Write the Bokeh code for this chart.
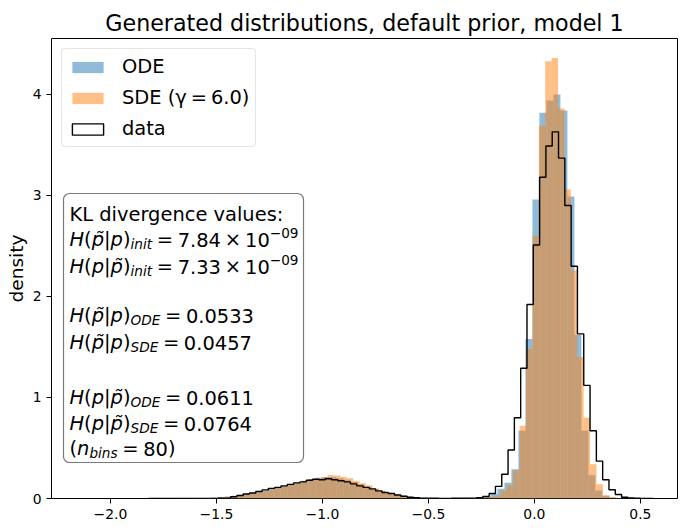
import numpy as np
from bokeh.plotting import figure
from bokeh.models import (Range1d, FixedTicker, CustomJSTickFormatter, Legend, LegendItem,
                          BoxAnnotation, Label)
from bokeh.embed import file_html
from bokeh.resources import INLINE

# ---------------------------------------------------------------- data
N_BINS = 80

# (min, max) of each sample set; each histogram uses N_BINS equal bins over its own range
ode_range = (-2.0884, 0.5516)
sde_range = (-1.8516, 0.5644)
data_range = (-1.82, 0.56)

# normalised bin densities
ode_density = [
    0.001, 0.0, 0.0, 0.0, 0.0, 0.0, 0.0, 0.001, 0.001, 0.001,
    0.002, 0.002, 0.003, 0.003, 0.004, 0.005, 0.006, 0.010, 0.015, 0.020,
    0.028, 0.038, 0.050, 0.063, 0.078, 0.093, 0.108, 0.123, 0.140, 0.158,
    0.175, 0.192, 0.205, 0.214, 0.212, 0.200, 0.185, 0.163, 0.140, 0.115,
    0.093, 0.072, 0.053, 0.038, 0.026, 0.016, 0.010, 0.007, 0.005, 0.004,
    0.003, 0.003, 0.003, 0.004, 0.004, 0.008, 0.020, 0.047, 0.096, 0.155,
    0.29, 0.67, 1.58, 2.96, 3.82, 3.94, 4.00, 3.84, 2.99, 1.62,
    0.67, 0.23, 0.08, 0.025, 0.010, 0.005, 0.003, 0.002, 0.002, 0.001,
]
sde_density = [
    0.001, 0.001, 0.001, 0.001, 0.001, 0.002, 0.002, 0.002, 0.003, 0.003,
    0.004, 0.006, 0.010, 0.015, 0.022, 0.030, 0.040, 0.050, 0.062, 0.075,
    0.090, 0.105, 0.120, 0.135, 0.150, 0.170, 0.185, 0.200, 0.212, 0.232,
    0.228, 0.215, 0.200, 0.175, 0.150, 0.130, 0.100, 0.080, 0.060, 0.045,
    0.030, 0.020, 0.012, 0.008, 0.005, 0.003, 0.002, 0.002, 0.002, 0.002,
    0.002, 0.002, 0.005, 0.008, 0.015, 0.030, 0.080, 0.130, 0.280, 0.72,
    1.48, 2.60, 3.69, 4.33, 4.36, 3.86, 3.06, 2.26, 1.40, 0.80,
    0.34, 0.14, 0.035, 0.012, 0.005, 0.003, 0.002, 0.001, 0.001, 0.001,
]
data_density = [
    0.001, 0.0, 0.0, 0.0, 0.0, 0.0, 0.0, 0.0, 0.001, 0.0,
    0.001, 0.002, 0.004, 0.017, 0.030, 0.045, 0.055, 0.070, 0.085, 0.100,
    0.110, 0.125, 0.140, 0.155, 0.165, 0.180, 0.190, 0.185, 0.195, 0.185,
    0.175, 0.165, 0.145, 0.125, 0.110, 0.095, 0.075, 0.060, 0.050, 0.035,
    0.022, 0.012, 0.007, 0.004, 0.002, 0.002, 0.001, 0.001, 0.002, 0.002,
    0.003, 0.004, 0.008, 0.020, 0.050, 0.120, 0.240, 0.480, 0.800, 1.290,
    1.920, 2.510, 3.180, 3.490, 3.630, 3.370, 2.900, 2.300, 1.630, 1.120,
    0.670, 0.370, 0.185, 0.086, 0.040, 0.013, 0.005, 0.002, 0.001, 0.001,
]

series_labels = ["ODE", "SDE (\u03b3\u2009=\u20096.0)", "data"]

# KL divergence values shown in the text box
kl_init_mantissa = ["7.84", "7.33"]
kl_init_exponent = "\u221209"
kl_fwd = {"ODE": "0.0533", "SDE": "0.0457"}   # H(p~|p)
kl_rev = {"ODE": "0.0611", "SDE": "0.0764"}   # H(p|p~)

x_ticks = [-2.0, -1.5, -1.0, -0.5, 0.0, 0.5]
y_ticks = [0, 1, 2, 3, 4]

# ---------------------------------------------------------------- layout constants
W, H = 683, 532
FRAME_L, FRAME_T, FRAME_W, FRAME_H = 51, 38, 626, 460
X_LO, X_HI = -2.278, 0.675
Y_LO, Y_HI = 0.0, 4.554
FONT = "DejaVu Sans"


def fx(px):
    return X_LO + (px - FRAME_L) * (X_HI - X_LO) / FRAME_W


def fy(py):
    return Y_HI - (py - FRAME_T) * (Y_HI - Y_LO) / FRAME_H


p = figure(width=W, height=H, output_backend="svg", toolbar_location=None,
           x_range=Range1d(X_LO, X_HI), y_range=Range1d(Y_LO, Y_HI),
           min_border_left=FRAME_L, min_border_right=W - FRAME_L - FRAME_W,
           min_border_top=FRAME_T, min_border_bottom=H - FRAME_T - FRAME_H,
           title="Generated distributions, default prior, model 1")

p.background_fill_color = "white"
p.border_fill_color = "white"
p.outline_line_color = "black"
p.outline_line_width = 1
p.xgrid.visible = False
p.ygrid.visible = False

p.title.align = "center"
p.title.text_font = FONT
p.title.text_font_size = "22.2px"
p.title.text_font_style = "normal"
p.title.text_color = "black"
p.title.standoff = 6

for ax in (p.xaxis[0], p.yaxis[0]):
    ax.axis_line_color = None
    ax.major_tick_line_color = "black"
    ax.major_tick_line_width = 1
    ax.major_tick_out = 5
    ax.major_tick_in = 0
    ax.minor_tick_line_color = None
    ax.major_label_text_font = FONT
    ax.major_label_text_font_size = "13.9px"
    ax.major_label_text_color = "black"
    ax.major_label_standoff = 5

p.xaxis.ticker = FixedTicker(ticks=x_ticks)
p.xaxis.formatter = CustomJSTickFormatter(
    code="return (tick < 0 ? '\\u2212' : '') + Math.abs(tick).toFixed(1);")
p.yaxis.ticker = FixedTicker(ticks=y_ticks)
p.yaxis.axis_label = "density"
p.yaxis.axis_label_text_font = FONT
p.yaxis.axis_label_text_font_size = "18.5px"
p.yaxis.axis_label_text_font_style = "normal"
p.yaxis.axis_label_text_color = "black"
p.yaxis.axis_label_standoff = 3


def edges_of(rng):
    return np.linspace(rng[0], rng[1], N_BINS + 1)


# ---------------------------------------------------------------- histograms
e_ode = edges_of(ode_range)
r_ode = p.quad(left=e_ode[:-1], right=e_ode[1:], bottom=0, top=ode_density,
               fill_color="#1f77b4", fill_alpha=0.5, line_color=None)

e_sde = edges_of(sde_range)
r_sde = p.quad(left=e_sde[:-1], right=e_sde[1:], bottom=0, top=sde_density,
               fill_color="#ff7f0e", fill_alpha=0.5, line_color=None)

e_dat = edges_of(data_range)
step_x = np.repeat(e_dat, 2)
step_y = np.concatenate([[0.0], np.repeat(np.asarray(data_density), 2), [0.0]])
p.line(step_x, step_y, line_color="black", line_width=1.4)

# outlined box with no visible extent, used only as the legend key for the step outline
r_data_key = p.quad(left=[np.nan], right=[np.nan], bottom=[np.nan], top=[np.nan],
                    fill_color="white", line_color="black", line_width=1.4)

legend = Legend(items=[LegendItem(label=series_labels[0], renderers=[r_ode]),
                       LegendItem(label=series_labels[1], renderers=[r_sde]),
                       LegendItem(label=series_labels[2], renderers=[r_data_key])],
                location="top_left", margin=10, padding=6, spacing=8,
                glyph_width=39, glyph_height=14, label_standoff=15, label_height=22,
                label_text_font=FONT, label_text_font_size="19.44px",
                label_text_color="black", border_line_color="#cccccc",
                border_line_width=1, background_fill_alpha=0.8)
if "border_radius" in Legend.properties():
    legend.border_radius = 4
p.add_layout(legend)

# ---------------------------------------------------------------- KL text box
box = BoxAnnotation(left=fx(63), right=fx(303), top=fy(193), bottom=fy(462),
                    fill_color="white", fill_alpha=0.8,
                    line_color="#7a7a7a", line_alpha=1.0, line_width=1.2)
if "border_radius" in BoxAnnotation.properties():
    box.border_radius = 6
p.add_layout(box)

FS = 19.44
SMALL = 0.7 * FS
ADV = {" ": 0.318, "(": 0.390, ")": 0.390, "|": 0.337, "=": 0.838, ".": 0.318,
       "\u00d7": 0.838, "\u2212": 0.838, "H": 0.752, "p": 0.635, "i": 0.278,
       "n": 0.634, "t": 0.392, "O": 0.787, "D": 0.770, "E": 0.632, "S": 0.635,
       "b": 0.635, "s": 0.521, "\u0303": 0.0}
for d in "0123456789":
    ADV[d] = 0.636


def advance(s, size):
    return sum(ADV.get(c, 0.6) for c in s) * size


def put(text, px, base, size, style="normal"):
    p.add_layout(Label(x=fx(px), y=fy(base), text=text, text_font=FONT,
                       text_font_size=f"{size:.2f}px", text_font_style=style,
                       text_baseline="alphabetic", text_align="left",
                       text_color="black"))


def put_line(pieces, x0, base):
    x = x0
    for txt, kind in pieces:
        if kind == "gap":
            x += txt * FS
            continue
        size = SMALL if kind in ("sub", "sup") else FS
        dy = 4.0 if kind == "sub" else (-7.0 if kind == "sup" else 0.0)
        style = "italic" if kind in ("it", "sub") else "normal"
        put(txt, x, base + dy, size, style)
        x += advance(txt, size)


PT = "p\u0303"


def H_of(a, b):
    return [("H", "it"), ("(", "rm"), (a, "it"), ("|", "rm"), (b, "it"), (")", "rm")]


EQ = [(0.24, "gap"), ("=", "rm"), (0.24, "gap")]
TIMES = [(0.2, "gap"), ("\u00d7", "rm"), (0.2, "gap")]

X0 = 69
put("KL divergence values:", X0, 214, FS)
put_line(H_of(PT, "p") + [("init", "sub")] + EQ + [(kl_init_mantissa[0], "rm")] + TIMES
         + [("10", "rm"), (kl_init_exponent, "sup")], X0, 239)
put_line(H_of("p", PT) + [("init", "sub")] + EQ + [(kl_init_mantissa[1], "rm")] + TIMES
         + [("10", "rm"), (kl_init_exponent, "sup")], X0, 266)
put_line(H_of(PT, "p") + [("ODE", "sub")] + EQ + [(kl_fwd["ODE"], "rm")], X0, 315)
put_line(H_of(PT, "p") + [("SDE", "sub")] + EQ + [(kl_fwd["SDE"], "rm")], X0, 342)
put_line(H_of("p", PT) + [("ODE", "sub")] + EQ + [(kl_rev["ODE"], "rm")], X0, 397)
put_line(H_of("p", PT) + [("SDE", "sub")] + EQ + [(kl_rev["SDE"], "rm")], X0, 423)
put_line([("(", "rm"), ("n", "it"), ("bins", "sub")] + EQ + [(str(N_BINS), "rm"), (")", "rm")],
         X0, 448)

open("out.html", "w").write(file_html(p, INLINE))
